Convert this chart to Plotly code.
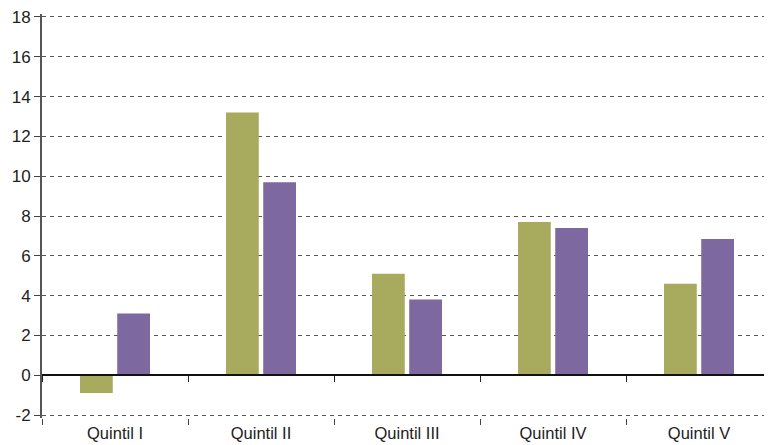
import plotly.graph_objects as go

categories = ["Quintil I", "Quintil II", "Quintil III", "Quintil IV", "Quintil V"]
serie_verde = [-0.9, 13.2, 5.1, 7.7, 4.6]
serie_morada = [3.1, 9.7, 3.8, 7.4, 6.85]
y_ticks = [-2, 0, 2, 4, 6, 8, 10, 12, 14, 16, 18]
y_tick_labels = [str(v) for v in y_ticks]  # guion normal en "-2"

fig = go.Figure()
fig.add_trace(go.Bar(x=categories, y=serie_verde, marker_color="#A8AA5E",
                     marker_line_width=0, name="A"))
fig.add_trace(go.Bar(x=categories, y=serie_morada, marker_color="#7D69A0",
                     marker_line_width=0, name="B"))
# eje auxiliar para la linea del cero con sus marcas
fig.add_trace(go.Scatter(x=categories, y=[None] * len(categories), xaxis="x2",
                         showlegend=False, hoverinfo="skip"))

# la pagina tiene 8px de margen en el body
fig.update_layout(
    width=764, height=437,
    margin=dict(l=34, r=0, t=6, b=27),
    plot_bgcolor="white", paper_bgcolor="white",
    showlegend=False,
    barmode="group", bargap=0.49, bargroupgap=0.12,
    font=dict(family="Arial, Liberation Sans, sans-serif", size=16, color="#222"),
    xaxis=dict(
        type="category", tickson="boundaries", ticks="outside", ticklen=6,
        tickcolor="#444", showgrid=False, showline=False, zeroline=False,
        tickfont=dict(size=16.5), automargin=False, ticklabelstandoff=3,
    ),
    xaxis2=dict(
        type="category", overlaying="x", anchor="free",
        position=2.15 / 20.3,
        tickson="boundaries", ticks="outside", ticklen=6, tickcolor="#222",
        showticklabels=False, showline=True, linecolor="#111", linewidth=1.5,
        showgrid=False, zeroline=False, matches="x", automargin=False,
    ),
    yaxis=dict(
        range=[-2.15, 18.15], tickvals=y_ticks, ticktext=y_tick_labels,
        ticks="outside", ticklen=6, tickcolor="#444",
        showline=True, linecolor="#555", linewidth=2,
        showgrid=True, gridcolor="#555", gridwidth=1, griddash="4px,4px",
        zeroline=False, tickfont=dict(size=17), automargin=False,
        ticklabeloverflow="allow",
    ),
)

fig.write_html("out.html")
